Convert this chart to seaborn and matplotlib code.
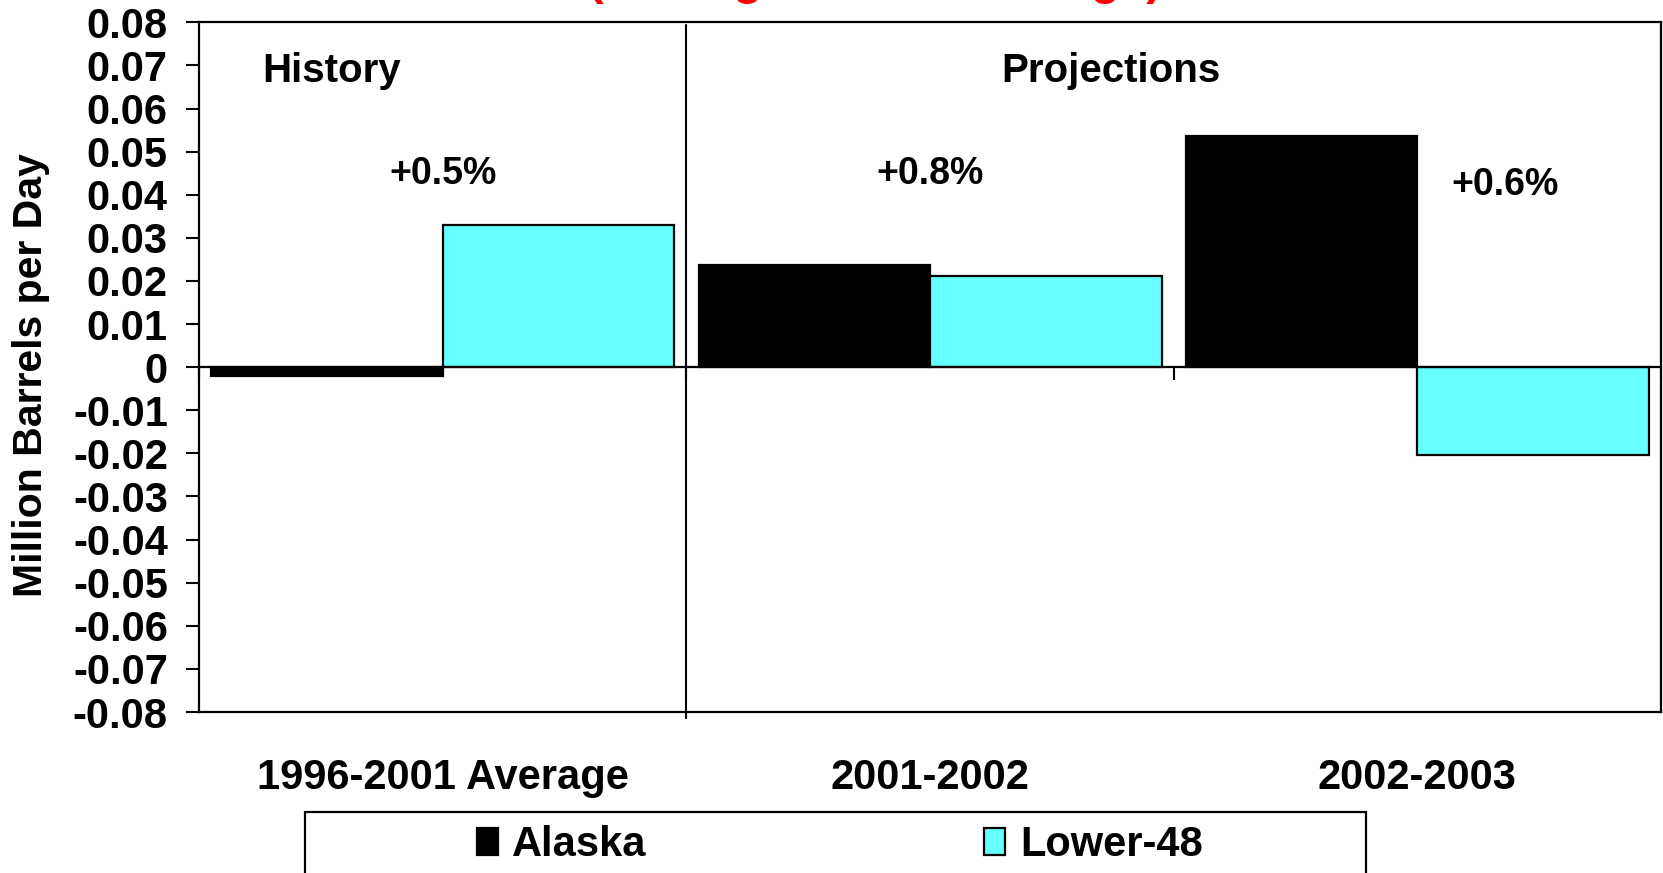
import numpy as np
import pandas as pd
import matplotlib
matplotlib.use("Agg")
import matplotlib.pyplot as plt
from matplotlib.patches import Rectangle
from matplotlib.ticker import FuncFormatter, MultipleLocator
import seaborn as sns

# ---- data ----
categories = ["1996-2001 Average", "2001-2002", "2002-2003"]
series_names = ["Alaska", "Lower-48"]
alaska = [-0.002, 0.0236, 0.0537]
lower48 = [0.0329, 0.0212, -0.0203]
growth_labels = ["+0.5%", "+0.8%", "+0.6%"]
period_labels = ["History", "Projections"]
title_text = "(Average Annual Change)"
y_label = "Million Barrels per Day"

df = pd.DataFrame({
    "Period": categories * 2,
    "Region": [series_names[0]] * len(categories) + [series_names[1]] * len(categories),
    "Value": alaska + lower48,
})

sns.set_style("white")
plt.rcParams["font.family"] = ["Liberation Sans", "DejaVu Sans"]
plt.rcParams["font.weight"] = "bold"
plt.rcParams["text.color"] = "black"
plt.rcParams["axes.labelcolor"] = "black"
plt.rcParams["xtick.color"] = "black"
plt.rcParams["ytick.color"] = "black"

fig = plt.figure(figsize=(16.63, 8.73), dpi=100)
ax = fig.add_axes([0.1197, 0.1844, 0.8791, 0.7900])

sns.barplot(data=df, x="Period", y="Value", hue="Region",
            order=categories, hue_order=series_names,
            palette={"Alaska": "#000000", "Lower-48": "#66FFFF"},
            saturation=1, width=0.95, gap=0, edgecolor="black",
            linewidth=1.6, errorbar=None, ax=ax)

ax.set_xlim(-0.5, len(categories) - 0.5)
ax.set_ylim(-0.08, 0.08)
ax.yaxis.set_major_locator(MultipleLocator(0.01))
ax.yaxis.set_major_formatter(FuncFormatter(lambda v, p: "0" if abs(v) < 1e-9 else f"{v:.2f}"))

for s in ax.spines.values():
    s.set_visible(True)
    s.set_color("black")
    s.set_linewidth(1.6)

ax.tick_params(axis="y", left=True, direction="out", length=9.5, width=1.5,
               pad=13, labelsize=30, colors="black")
for t in ax.get_yticklabels():
    t.set_fontweight("bold")
    t.set_color("black")

ax.set_xticks(range(len(categories)))
ax.set_xticklabels(categories, fontsize=30, fontweight="bold", color="black")
ax.tick_params(axis="x", bottom=False, length=0, pad=33)
ax.set_xlabel("")
ax.set_ylabel(y_label, fontsize=29.5, fontweight="bold", color="black")
ax.yaxis.set_label_coords(-0.102, 0.489)

# category axis crossing at zero with boundary ticks
boundaries = np.arange(len(categories) + 1) - 0.5
secax = ax.secondary_xaxis(0.5)
secax.set_alignment("bottom")
secax.set_xticks(boundaries)
secax.tick_params(axis="x", direction="out", length=9, width=1.5, colors="black",
                  labelbottom=False, labeltop=False, bottom=True, top=False)
secax.spines["bottom"].set_linewidth(1.6)
secax.spines["bottom"].set_color("black")
secax.set_zorder(5)

# history / projections divider
ax.axvline(boundaries[1], ymin=-0.009, ymax=0.996, color="black", lw=1.5, clip_on=False, zorder=4)

# annotations
growth_pos = [(0.0, 0.0448), (1.0, 0.0448), (2.18, 0.0423)]
for txt, (x, y) in zip(growth_labels, growth_pos):
    ax.text(x, y, txt, fontsize=27, fontweight="bold", ha="center", va="center", color="black")
period_pos = [(-0.229, 0.0686), (1.371, 0.0686)]
for txt, (x, y) in zip(period_labels, period_pos):
    ax.text(x, y, txt, fontsize=29, fontweight="bold", ha="center", va="center", color="black")

# title (mostly cut off at the top of the image, as in the reference)
fig.text(0.526, 1.0068, title_text, color="red", fontsize=34, fontweight="bold",
         ha="center", va="baseline")

# legend
handles, labels = ax.get_legend_handles_labels()
if ax.get_legend() is not None:
    ax.get_legend().remove()
leg = fig.legend(handles, labels, loc="center left", bbox_to_anchor=(0.2868, 0.0320),
                 ncol=2, frameon=False, prop={"size": 30, "weight": "bold"},
                 handlelength=0.5, handleheight=0.6, handletextpad=0.35,
                 columnspacing=8.1, borderpad=0, borderaxespad=0)
for t in leg.get_texts():
    t.set_color("black")
fig.patches.append(Rectangle((0.1834, -0.02), 0.638, 0.0899, transform=fig.transFigure,
                             fill=False, lw=1.6, ec="black"))

fig.savefig("out.png", dpi=100)
